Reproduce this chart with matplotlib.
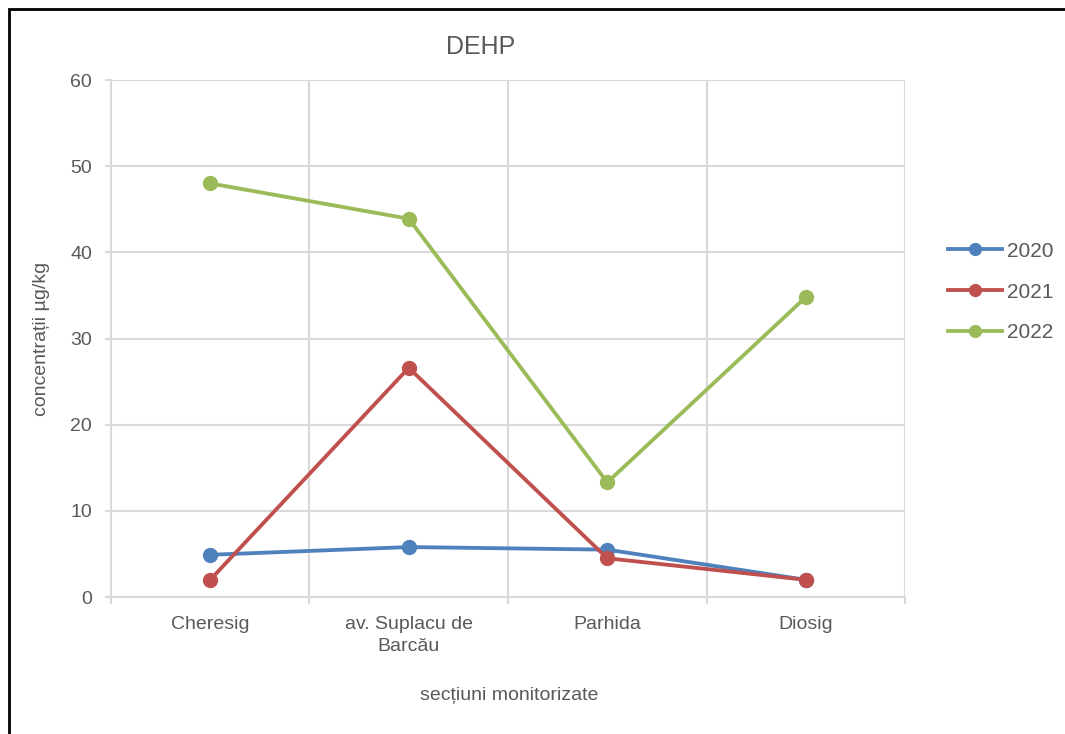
import matplotlib.pyplot as plt
import numpy as np
from matplotlib.patches import Rectangle

plt.rcParams['font.family'] = ['Liberation Sans', 'DejaVu Sans']

sites = ['Cheresig', 'av. Suplacu de\nBarcău', 'Parhida', 'Diosig']
years = ['2020', '2021', '2022']
v2020 = [4.9, 5.8, 5.5, 2.0]
v2021 = [2.0, 26.6, 4.5, 2.0]
v2022 = [48.0, 43.9, 13.3, 34.8]
colors = ['#4F81BD', '#C0504D', '#9BBB59']

grey = '#595959'
gridc = '#D9D9D9'

fig = plt.figure(figsize=(10.65, 7.34), dpi=100)
ax = fig.add_axes([0.1042, 0.1866, 0.7456, 0.7044])

x = np.arange(len(sites))
for vals, yr, c in zip([v2020, v2021, v2022], years, colors):
	ax.plot(x, vals, color=c, lw=2.75, marker='o', ms=10, label=yr, zorder=3)

ax.set_xlim(-0.5, 3.5)
ax.set_ylim(0, 60)
ax.set_yticks(np.arange(0, 61, 10))
ax.set_xticks(x)
ax.set_xticklabels(sites, linespacing=1.35)
ax.set_xticks(np.arange(-0.5, 3.6, 1), minor=True)
ax.grid(True, axis='y', color=gridc, lw=1.5, zorder=0)
ax.grid(True, axis='x', which='minor', color=gridc, lw=1.5, zorder=0)
ax.tick_params(axis='x', which='major', length=0, pad=14, labelsize=14, colors=grey)
ax.tick_params(axis='x', which='minor', length=5, width=1.5, color=gridc)
ax.tick_params(axis='y', length=4.5, width=1.5, color=gridc, pad=9, labelsize=14, colors=grey)
for s in ['top', 'right']:
	ax.spines[s].set_visible(False)
for s in ['left', 'bottom']:
	ax.spines[s].set_color(gridc)
	ax.spines[s].set_linewidth(1.5)

fig.text(481 / 1065, 1 - 47 / 734, 'DEHP', ha='center', va='center', fontsize=18, color=grey)
ax.set_ylabel('concentrații µg/kg', fontsize=14, color=grey)
ax.yaxis.set_label_coords(-0.077, 0.5)
fig.text(509 / 1065, 1 - 696 / 734, 'secțiuni monitorizate', ha='center', va='center', fontsize=14, color=grey)

fig.legend(loc='center left', bbox_to_anchor=(948 / 1065, 1 - 292 / 734), frameon=False,
	borderpad=0, borderaxespad=0,
	fontsize=15, labelcolor=grey, handlelength=2.6, handletextpad=0.25, labelspacing=1.05, markerscale=0.85)

fig.patches.append(Rectangle((0.0085, -0.1), 1.1, 1.0877, transform=fig.transFigure,
	fill=False, ec='black', lw=2, clip_on=False))

fig.savefig('out.png', dpi=100)
